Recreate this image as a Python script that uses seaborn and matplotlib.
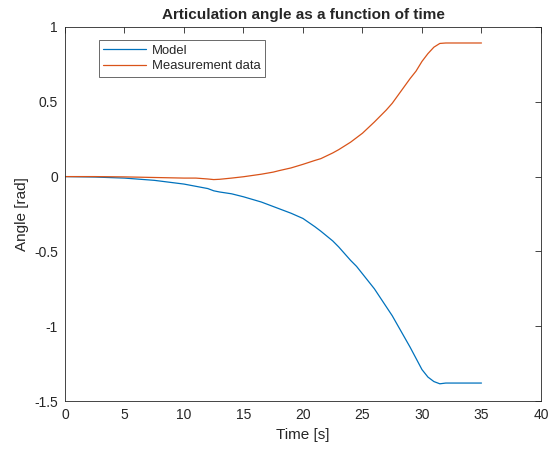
import numpy as np
import pandas as pd
import seaborn as sns
import matplotlib
matplotlib.use("Agg")
import matplotlib.pyplot as plt

# values
time_s = [0, 2.5, 5, 7.5, 10, 11, 12, 12.5, 13, 14, 15, 16.5, 17.5, 18, 19, 20, 21, 21.5,
          22.5, 23, 23.5, 24, 24.5, 25, 26, 26.5, 27, 27.5, 28, 28.5, 29, 29.5, 30, 30.5,
          31, 31.5, 32, 33, 35]
model = [0, -0.003, -0.01, -0.025, -0.05, -0.065, -0.08, -0.095, -0.103, -0.115, -0.135,
         -0.17, -0.2, -0.215, -0.245, -0.28, -0.335, -0.365, -0.43, -0.47, -0.515, -0.56,
         -0.6, -0.65, -0.75, -0.81, -0.87, -0.93, -1.0, -1.07, -1.14, -1.215, -1.29,
         -1.34, -1.37, -1.385, -1.38, -1.38, -1.38]
measured = [0, 0, -0.002, -0.006, -0.01, -0.01, -0.016, -0.02, -0.018, -0.01, -0.001,
            0.016, 0.03, 0.04, 0.058, 0.082, 0.108, 0.12, 0.158, 0.18, 0.205, 0.23, 0.26,
            0.29, 0.365, 0.405, 0.445, 0.49, 0.545, 0.6, 0.655, 0.705, 0.77, 0.822, 0.865,
            0.89, 0.893, 0.893, 0.893]
series_names = ["Model", "Measurement data"]
x_ticks = [0, 5, 10, 15, 20, 25, 30, 35, 40]
y_ticks = [-1.5, -1, -0.5, 0, 0.5, 1]

df = pd.DataFrame({
    "t": time_s * 2,
    "angle": model + measured,
    "series": [series_names[0]] * len(time_s) + [series_names[1]] * len(time_s),
})

sns.set_style("white")
plt.rcParams["font.family"] = ["Liberation Sans", "DejaVu Sans"]

fig = plt.figure(figsize=(5.54, 4.49), dpi=100)
ax = fig.add_axes([0.1173, 0.1069, 0.8592, 0.833])

sns.lineplot(data=df, x="t", y="angle", hue="series", hue_order=series_names,
             palette=["#0072BD", "#D95319"], linewidth=0.9, ax=ax, estimator=None)

ax.set_xlim(0, 40)
ax.set_ylim(-1.5, 1)
ax.set_xticks(x_ticks)
ax.set_yticks(y_ticks)
ax.set_xticklabels([str(v) for v in x_ticks])
ax.set_yticklabels(["-1.5", "-1", "-0.5", "0", "0.5", "1"])
ax.tick_params(direction="in", length=4, width=0.6, colors="#262626", labelsize=10,
               top=True, right=True, pad=5)
for s in ax.spines.values():
    s.set_color("#262626")
    s.set_linewidth(0.6)

ax.set_xlabel("Time [s]", fontsize=11, color="#262626")
ax.set_ylabel("Angle [rad]", fontsize=11, color="#262626")
ax.set_title("Articulation angle as a function of time", fontsize=11, fontweight="bold", pad=6)

leg = ax.legend(loc="upper left", bbox_to_anchor=(0.071, 0.965), fontsize=9.4, frameon=True,
                fancybox=False, edgecolor="#262626", handlelength=3.3, borderpad=0.35,
                labelspacing=0.25, handletextpad=0.4, borderaxespad=0)
leg.get_frame().set_linewidth(0.6)

fig.savefig("out.png", dpi=100)
